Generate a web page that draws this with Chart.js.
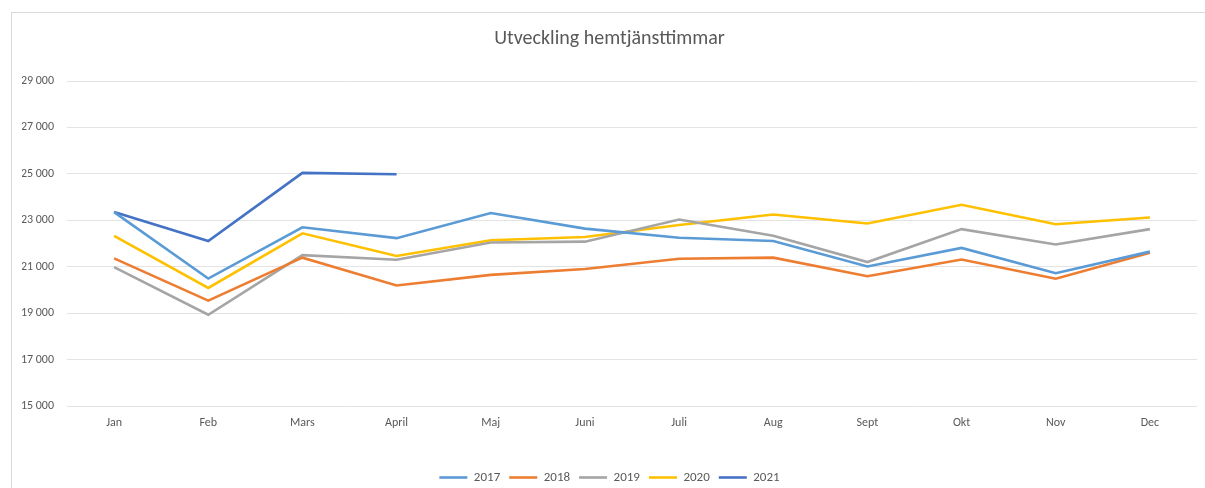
<!DOCTYPE html>
<html>
<head>
<meta charset="utf-8">
<script src="https://cdn.jsdelivr.net/npm/chart.js@4.4.1/dist/chart.umd.min.js"></script>
<style>
  html, body { margin: 0; padding: 0; background: #fff; overflow: hidden; }
  #frame { position: absolute; left: 11px; top: 12px; width: 1300px; height: 600px;
           border-left: 1px solid #d9d9d9; border-top: 1px solid #d9d9d9; }
  #wrap { position: absolute; left: 0; top: 0; width: 1205px; height: 494px; }
</style>
</head>
<body>
<div id="frame"></div>
<div id="wrap"><canvas id="lineChart"></canvas></div>
<script>
// Months and hours per year
const months = ['Jan', 'Feb', 'Mars', 'April', 'Maj', 'Juni', 'Juli', 'Aug', 'Sept', 'Okt', 'Nov', 'Dec'];
const hours2017 = [23350, 20490, 22700, 22230, 23310, 22640, 22250, 22110, 21010, 21810, 20720, 21650];
const hours2018 = [21360, 19540, 21390, 20190, 20650, 20900, 21340, 21390, 20590, 21310, 20480, 21600];
const hours2019 = [20980, 18930, 21500, 21300, 22040, 22080, 23030, 22330, 21200, 22620, 21960, 22620];
const hours2020 = [22325, 20085, 22440, 21460, 22140, 22280, 22800, 23250, 22860, 23670, 22830, 23120];
const hours2021 = [23360, 22110, 25040, 24980, null, null, null, null, null, null, null, null];
const yTicks = [15000, 17000, 19000, 21000, 23000, 25000, 27000, 29000];

const FONT = 'Carlito, Calibri, Lato, sans-serif';
const GREY = '#595959';

function fmt(v) {
    return String(v).replace(/\B(?=(\d{3})+(?!\d))/g, ' ');
}

function series(label, data, color) {
    return {
        label: label,
        data: data,
        borderColor: color,
        backgroundColor: color,
        borderWidth: 2.6,
        pointRadius: 0,
        pointHoverRadius: 0,
        tension: 0,
        fill: false,
        spanGaps: false
    };
}

document.addEventListener('DOMContentLoaded', () => {
    const ctx = document.getElementById('lineChart').getContext('2d');
    new Chart(ctx, {
        type: 'line',
        data: {
            labels: months,
            datasets: [
                series('2017', hours2017, '#5B9BD5'),
                series('2018', hours2018, '#ED7D31'),
                series('2019', hours2019, '#A5A5A5'),
                series('2020', hours2020, '#FFC000'),
                series('2021', hours2021, '#4472C4')
            ]
        },
        options: {
            responsive: true,
            maintainAspectRatio: false,
            animation: false,
            layout: { padding: { left: 22, right: 8, top: 0, bottom: 0 } },
            plugins: {
                title: {
                    display: true,
                    text: 'Utveckling hemtjänsttimmar',
                    color: GREY,
                    font: { family: FONT, size: 20, weight: 'normal' },
                    padding: { top: 27, bottom: 30 }
                },
                legend: {
                    position: 'bottom',
                    labels: {
                        color: GREY,
                        font: { family: FONT, size: 13 },
                        usePointStyle: true,
                        pointStyle: 'line',
                        pointStyleWidth: 28,
                        padding: 9
                    }
                },
                tooltip: { enabled: false }
            },
            scales: {
                x: {
                    offset: true,
                    grid: { display: false },
                    border: { display: false },
                    ticks: {
                        color: GREY,
                        font: { family: FONT, size: 12 },
                        padding: 2,
                        maxRotation: 0
                    },
                    afterFit: (scale) => { scale.height = 56; }
                },
                y: {
                    min: 15000,
                    max: 29000,
                    grid: { color: '#e3e3e3', drawTicks: false },
                    border: { display: false },
                    ticks: {
                        color: GREY,
                        font: { family: FONT, size: 12 },
                        padding: 13,
                        callback: (v) => fmt(v)
                    },
                    afterBuildTicks: (scale) => {
                        scale.ticks = yTicks.map(v => ({ value: v }));
                    },
                    afterFit: (scale) => { scale.width = 45; }
                }
            }
        }
    });
});
</script>
</body>
</html>
